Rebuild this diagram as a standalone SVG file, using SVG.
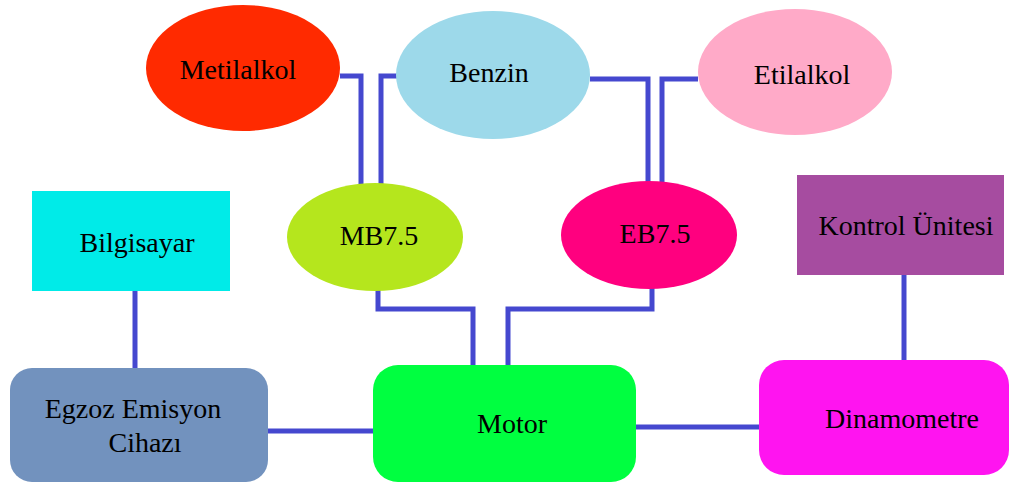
<svg xmlns="http://www.w3.org/2000/svg" width="1012" height="485" viewBox="0 0 1012 485">
<style>
text{font-family:'Liberation Serif','Times New Roman','DejaVu Serif',serif;font-size:28px;fill:#000;text-anchor:middle}
.c{fill:none;stroke:#4548CF;stroke-width:5;stroke-linejoin:miter}
</style>
<rect width="1012" height="485" fill="#fff"/>
<g id="connectors">
<polyline class="c" points="340,76 361,76 361,186"/>
<polyline class="c" points="398,76 381,76 381,186"/>
<polyline class="c" points="590,79 648,79 648,184"/>
<polyline class="c" points="698,79 662,79 662,184"/>
<polyline class="c" points="378,288 378,309 473,309 473,367"/>
<polyline class="c" points="652,288 652,309 508,309 508,367"/>
<line class="c" x1="135" y1="290" x2="135" y2="369"/>
<line class="c" x1="904" y1="274" x2="904" y2="361"/>
<line class="c" x1="266" y1="431" x2="374" y2="431"/>
<line class="c" x1="635" y1="427" x2="760" y2="427"/>
</g>
<g id="metilalkol"><ellipse cx="243" cy="68" rx="97" ry="63" fill="#FF2A00"/><text x="238" y="79">Metilalkol</text></g>
<g id="benzin"><ellipse cx="493" cy="75" rx="97" ry="64" fill="#9DD9EA"/><text x="489" y="82">Benzin</text></g>
<g id="etilalkol"><ellipse cx="795" cy="72" rx="97" ry="63" fill="#FFAAC8"/><text x="802" y="84">Etilalkol</text></g>
<g id="mb75"><ellipse cx="375" cy="237" rx="88" ry="54" fill="#B5E61D"/><text x="379" y="245">MB7.5</text></g>
<g id="eb75"><ellipse cx="649" cy="235" rx="88" ry="54" fill="#FF007F"/><text x="655" y="243">EB7.5</text></g>
<g id="bilgisayar"><rect x="32" y="191" width="198" height="100" fill="#00EBE8"/><text x="137" y="252">Bilgisayar</text></g>
<g id="kontrol"><rect x="797" y="175" width="207" height="100" fill="#A64CA0"/><text x="906" y="235">Kontrol Ünitesi</text></g>
<g id="egzoz"><rect x="10" y="368" width="258" height="114" rx="22" fill="#7292BE"/><text x="133" y="418">Egzoz Emisyon</text><text x="145" y="452">Cihazı</text></g>
<g id="motor"><rect x="373" y="365" width="263" height="117" rx="25" fill="#00FF40"/><text x="512" y="433">Motor</text></g>
<g id="dinamometre"><rect x="759" y="360" width="250" height="115" rx="25" fill="#FF14F0"/><text x="902" y="428">Dinamometre</text></g>
</svg>
